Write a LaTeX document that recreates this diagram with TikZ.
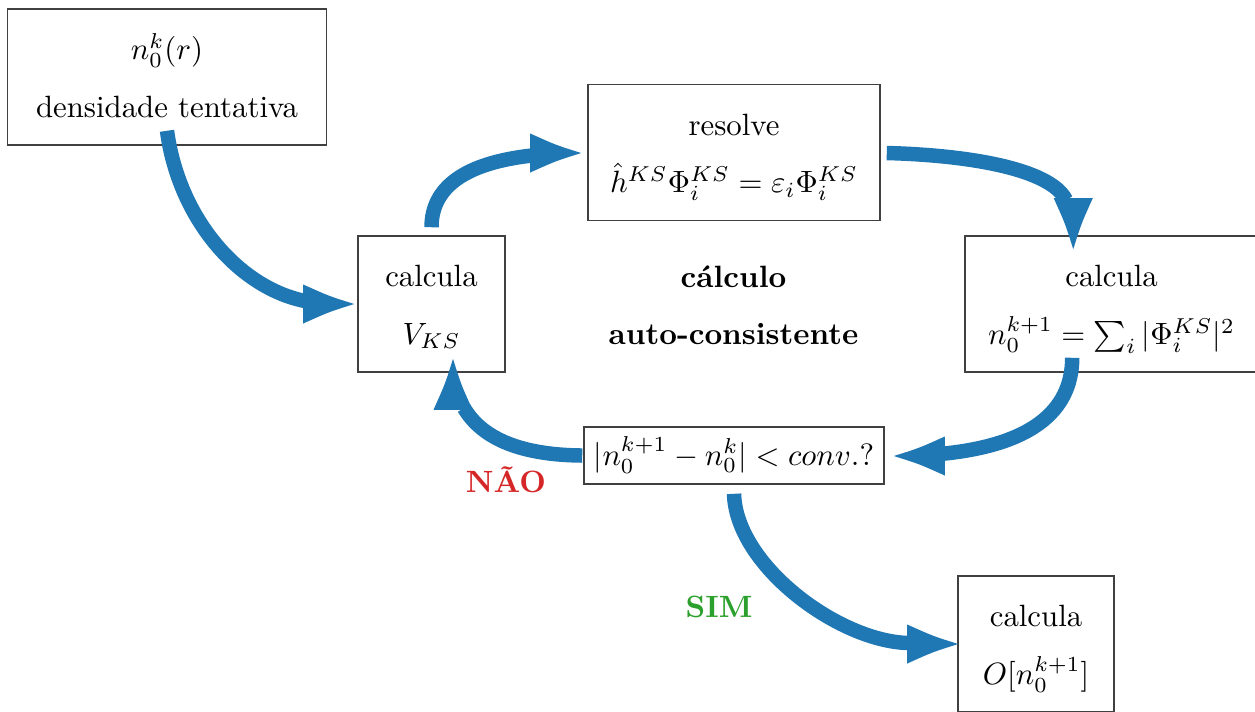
\documentclass[tikz,border=0pt]{standalone}
\usepackage{amsmath}
\usetikzlibrary{calc}
\definecolor{tabblue}{HTML}{1F77B4}
\definecolor{tabred}{HTML}{D62728}
\definecolor{tabgreen}{HTML}{2CA02C}
\newcommand{\firstline}[1]{\smash[t]{#1}\rule{0pt}{7.5pt}}
\newcommand{\lastline}[1]{\smash[b]{#1}}
\begin{document}
\begin{tikzpicture}[x=0.01141cm,y=-0.01141cm,
  box/.style={draw=black!75,line width=0.5pt,rectangle,align=center,inner sep=0pt,
    font=\fontsize{10pt}{18.6pt}\selectfont},
  shaft/.style={draw=tabblue,line width=4.7pt},
  headpic/.pic={\fill[tabblue] (0,0) .. controls (-25.5,-8) .. (-51,-19.5)
      -- (-51,19.5) .. controls (-25.5,8) .. (0,0) -- cycle;},
  lbl/.style={font=\bfseries,inner sep=0pt}]
\useasboundingbox (0,0) rectangle (1255,711);

\node[box,minimum width={319*0.01141cm},minimum height={136*0.01141cm}] (A) at (167,77)
  {\firstline{$n_0^k(r)$}\\\lastline{densidade tentativa}};
\node[box,minimum width={147*0.01141cm},minimum height={136*0.01141cm}] (B) at (431.5,304)
  {\firstline{calcula}\\\lastline{$V_{KS}$}};
\node[box,minimum width={292*0.01141cm},minimum height={136*0.01141cm}] (C) at (734,152.5)
  {\firstline{resolve}\\\lastline{$\hat{h}^{KS}\Phi_i^{KS}=\varepsilon_i\Phi_i^{KS}$}};
\node[box,minimum width={293*0.01141cm},minimum height={136*0.01141cm}] (D) at (1111.5,304)
  {\firstline{calcula}\\\lastline{$n_0^{k+1}=\sum_i|\Phi_i^{KS}|^2$}};
\node[box,minimum width={300*0.01141cm},minimum height={57*0.01141cm}] (E) at (734,455.5)
  {\smash{$|n_0^{k+1}-n_0^k|<conv.?$}\rule{0pt}{6.2pt}};
\node[box,minimum width={156*0.01141cm},minimum height={136*0.01141cm}] (F) at (1036,644)
  {\firstline{calcula}\\\lastline{$O[n_0^{k+1}]$}};

\node[lbl,align=center,font=\fontsize{10pt}{18.6pt}\selectfont\bfseries] (T) at (733.5,305.5)
  {cálculo\\auto-consistente};
\node[lbl,text=tabred,anchor=base] (NAO) at (506,492) {NÃO};
\node[lbl,text=tabgreen,anchor=base] (SIM) at (719,617) {SIM};

% arrow tips (on the target nodes) and ends of the shafts (at the heads' backs)
\coordinate (t1) at ($(B.west)+(-3,0)$);        \coordinate (e1) at (305,301);
\coordinate (t2) at ($(C.west)+(-6,0.5)$);      \coordinate (e2) at (532,155.5);
\coordinate (t3) at ($(D.north west)+(109,14)$); \coordinate (e3) at (1066,200);
\coordinate (t4) at ($(E.east)+(9,0.5)$);       \coordinate (e4) at (943,453.7);
\coordinate (t5) at ($(B.south)+(21.5,-14)$);   \coordinate (e5) at (464,408);
\coordinate (t6) at ($(F.west)+(1,0)$);         \coordinate (e6) at (909,643);

% shafts
\draw[shaft] ($(A.south)+(0,-15)$) .. controls (179,220) and (240,288) .. (e1);
\draw[shaft] ($(B.north)+(0,-8)$) .. controls (431.5,187.3) and (464.7,163) .. (e2);
\draw[shaft] ($(C.east)+(6,0.5)$) .. controls (965,155) and (1050,168) .. (e3);
\draw[shaft] ($(D.south west)+(108,-15)$) .. controls (1072,412.7) and (1028.7,445) .. (e4);
\draw[shaft] ($(E.west)+(-1,0)$) .. controls (523.3,455) and (483,440) .. (e5);
\draw[shaft] ($(E.south)+(0,9)$) .. controls (736,566) and (840,642) .. (e6);

% heads
\pic at (t1) {headpic};
\pic at (t2) {headpic};
\pic[rotate=-90] at (t3) {headpic};
\pic[rotate=180] at (t4) {headpic};
\pic[rotate=90] at (t5) {headpic};
\pic at (t6) {headpic};
\end{tikzpicture}
\end{document}
